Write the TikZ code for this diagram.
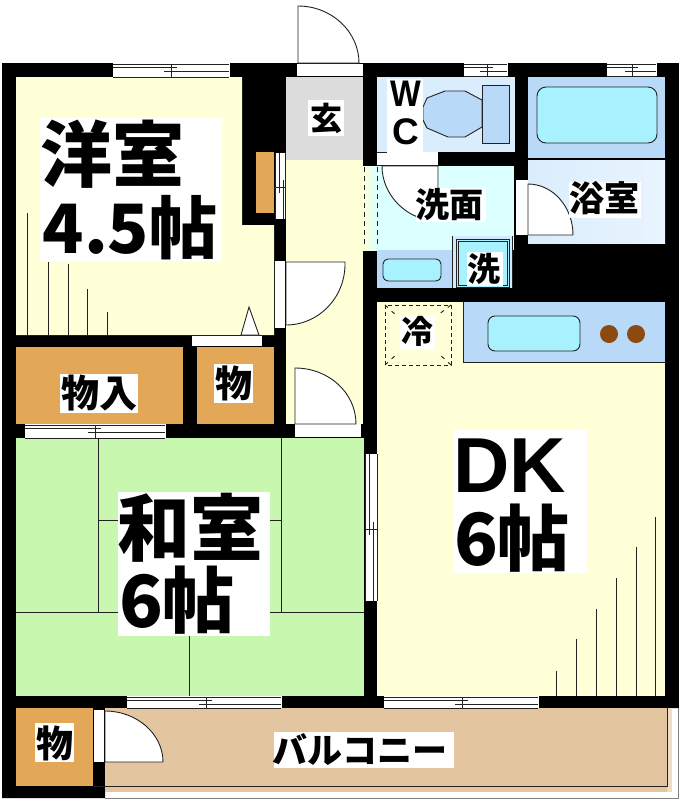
\documentclass[tikz,border=0pt]{standalone}
\usepackage{fontspec}
\setmainfont{Noto Sans CJK JP}[BoldFont={* Black}]
\newfontfamily\latinf{Liberation Sans}
\definecolor{yel}{HTML}{FFFFD8}
\definecolor{grn}{HTML}{C8F8B0}
\definecolor{org}{HTML}{E3A857}
\definecolor{tan}{HTML}{E3C6A0}
\definecolor{blu}{HTML}{B8DAF8}
\definecolor{pale}{HTML}{DAEDFD}
\definecolor{cya}{HTML}{A8F2FF}
\definecolor{wash}{HTML}{DCFFFF}
\definecolor{gry}{HTML}{DCDCDC}
\definecolor{ink}{HTML}{222222}
\definecolor{brn}{HTML}{8A4A10}
\tikzset{
  x=1pt,y=-1pt,
  lbox/.style={fill=white,inner sep=0pt,outer sep=0pt},
  ltext/.style={inner sep=0pt,outer sep=0pt,text=black,font=\bfseries},
  edge/.style={draw=ink,line width=0.9pt},
  thin rail/.style={draw=ink,line width=0.8pt},
  doorleaf/.style={fill=white,draw=ink,line width=0.9pt},
  fixture/.style={draw=ink,line width=0.9pt,fill=cya,rounded corners=7pt},
}
\newcommand\hwin[5]{% x1 x2 y1 y2 tick
  \fill[white] (#1,#3) rectangle (#2,#4);
  \draw[thin rail] (#1,#3+1) -- (#2,#3+1) (#1,#4) -- (#2,#4);
  \draw[thin rail] (#1,#3+4) -- (#5+6,#3+4) (#5-7,#3+8) -- (#2,#3+8);
  \draw[thin rail] (#5,#3+1) -- (#5,#4);
  \draw[white,line width=0.8pt] (#2,#3) -- (#2,#4);
}
\newcommand\vwin[5]{% x1 x2 y1 y2 tick
  \fill[white] (#1,#3) rectangle (#2,#4);
  \draw[thin rail] (#1,#3) -- (#1,#4) (#2,#3) -- (#2,#4);
  \draw[thin rail] (#1+4,#3) -- (#1+4,#5+6) (#1+8,#5-7) -- (#1+8,#4);
  \draw[thin rail] (#1,#5) -- (#2,#5);
}
\begin{document}
\begin{tikzpicture}
\useasboundingbox (0,0) rectangle (679,801);
\fill[white] (0,0) rectangle (679,801);
% walls
\fill[black] (2,63) -- (679,63) -- (679,708) -- (105,708) -- (105,798) -- (2,798) -- cycle;
% balcony
\fill[tan] (105,708) rectangle (672,792);
\fill[tan!60] (667,708) rectangle (672,792);
\draw[edge] (94,786) -- (667,786) -- (667,708);
\draw[draw=gray,line width=1pt] (105,798) -- (678,798) -- (678,708);
% rooms
\fill[yel] (16,77) -- (242,77) -- (242,225) -- (274,225) -- (274,335) -- (16,335) -- cycle;
\fill[gry] (286,77) rectangle (363,160);
\fill[yel] (286,160) rectangle (363,424);
\fill[grn] (16,438) rectangle (364,696);
\fill[yel] (377,302) rectangle (665,696);
\fill[org] (16,347) rectangle (183,424);
\fill[org] (197,347) rectangle (274,424);
\fill[org] (16,708) rectangle (93,786);
\fill[org] (256,152) rectangle (274,213);
% wet rooms
\fill[pale] (377,77) rectangle (515,152);
\fill[white] (377,152) rectangle (438,166);
\fill[blu] (528,77) rectangle (665,158);
\shade[left color=pale,right color=pale!60] (528,160) rectangle (665,243);
\shade[left color=yel,right color=wash,middle color=wash] (363,166) rectangle (390,250);
\fill[wash] (390,166) rectangle (514,250);
\fill[white] (516,180) rectangle (528,235);
\draw[edge,dashed,dash pattern=on 5pt off 4pt] (364,167) -- (364,248) (377,167) -- (377,248);
\draw[edge,dash pattern=on 10pt off 26pt] (377,152.5) -- (438,152.5);
\draw[edge] (377,165.5) -- (438,165.5);
% sink counter and washer
\fill[blu] (377,250) rectangle (452,288);
\draw[fixture,rounded corners=5pt] (383,259) rectangle (441,281);
\fill[blu!60] (452,236) rectangle (513,288);
\draw[draw=ink,line width=0.7pt] (452,236) -- (452,288) (512,236) -- (512,288);
\draw[draw=ink,line width=0.7pt,fill=cya] (456,239) rectangle (509,287);
\draw[draw=ink,line width=0.7pt] (458,241) rectangle (507,285);
% toilet
\draw[edge,fill=blu] (482,100) -- (465,91) -- (445,91) -- (427,98) -- (423,107) -- (423,120) -- (427,128) -- (448,137) -- (465,137) -- (482,127) -- cycle;
\draw[edge,fill=blu] (482,85) rectangle (509,143);
% bath
\draw[fixture,rounded corners=9pt] (537,87) rectangle (657,143);
% kitchen
\fill[blu] (463,302) rectangle (665,362);
\draw[edge] (463,302) -- (463,362) -- (665,362);
\draw[fixture,rounded corners=7pt] (488,316) rectangle (580,351);
\fill[brn] (609,334) circle (9);
\fill[brn] (636,334) circle (9);
% fridge
\draw[edge,dashed,dash pattern=on 4pt off 3pt] (385,305) rectangle (451,365);
\draw[edge,dash pattern=on 4pt off 5pt] (385,305) -- (398,317) (451,305) -- (438,315) (385,365) -- (398,353) (451,365) -- (438,353);
% tatami
\draw[edge] (98,438) -- (98,612) (281,438) -- (281,612) (98,520) -- (281,520) (16,612) -- (364,612) (189,612) -- (189,696);
% wardrobe hatching
\draw[edge] (27,335) -- (27,213) (48,335) -- (48,262) (68,335) -- (68,264) (87,335) -- (87,289) (107,335) -- (107,312);
\draw[edge] (556,696) -- (556,671) (576,696) -- (576,639) (596,696) -- (596,609) (616,696) -- (616,578) (636,696) -- (636,547) (655,696) -- (655,517);
% windows
\hwin{113}{229}{63}{77}{171}
\hwin{464}{507}{63}{76}{487}
\hwin{607}{656}{63}{76}{632}
\hwin{25}{165}{424}{438}{95}
\hwin{127}{281}{696}{708}{206}
\hwin{384}{538}{696}{708}{462}
\vwin{275}{285}{153}{219}{187}
\vwin{365}{377}{454}{601}{529}
% door gaps
\fill[white] (297,64) rectangle (363,76);
\draw[edge] (274.5,261) -- (274.5,328);
\fill[white] (275,261) rectangle (285,328);
\fill[white] (295,424) rectangle (361,437);
\fill[white] (192,336) rectangle (262,346);
\fill[white] (94,710) rectangle (104,762);
% door leaves
\draw[doorleaf] (298,63) -- (298,6) .. controls (332,6) and (359,32) .. (359,63) -- cycle;
\draw[doorleaf] (438,166) -- (382,166) .. controls (382,196) and (408,221) .. (438,221) -- cycle;
\draw[doorleaf] (286,262) -- (345,262) .. controls (346,297) and (319,325) .. (286,325) -- cycle;
\draw[doorleaf] (295,424) -- (295,368) .. controls (329,368) and (356,393) .. (356,424) -- cycle;
\draw[doorleaf] (528,235) -- (528,184) .. controls (553,184) and (573,207) .. (573,235) -- cycle;
\draw[doorleaf] (105,762) -- (105,711) .. controls (137,711) and (163,734) .. (163,762) -- cycle;
\draw[doorleaf] (249,307) -- (241,335) -- (259,335) -- cycle;
% label plates
\node[lbox,minimum width=182pt,minimum height=143pt] (plateyo) at (131,189.5) {};
\node[lbox,minimum width=152pt,minimum height=144pt] (plateja) at (194,564) {};
\node[lbox,minimum width=134pt,minimum height=143pt] (platedk) at (520,501.5) {};
\node[lbox,minimum width=36pt,minimum height=36pt] (plategen) at (326,118) {};
\node[lbox,minimum width=36pt,minimum height=86pt] (platewc) at (405,122) {};
\node[lbox,minimum width=70pt,minimum height=34pt] (platesen) at (451,205) {};
\node[lbox,minimum width=72pt,minimum height=36pt] (plateyoku) at (605,200) {};
\node[lbox,minimum width=36pt,minimum height=34pt] (plateses) at (485,269) {};
\node[lbox,minimum width=35pt,minimum height=35pt] (platerei) at (417.5,332.5) {};
\node[lbox,minimum width=78pt,minimum height=39pt] (plateire) at (99,393.5) {};
\node[lbox,minimum width=39pt,minimum height=39pt] (platemono) at (233.5,383.5) {};
\node[lbox,minimum width=39pt,minimum height=39pt] (platemonob) at (54.5,742.5) {};
\node[lbox,minimum width=180pt,minimum height=36pt] (platebal) at (364,750) {};
% labels
\node[ltext,font=\bfseries\fontsize{72}{72}\selectfont] (tyo) at (112,154) {洋室};
\node[ltext,font=\bfseries\fontsize{68}{68}\selectfont] (tyon) at (130,228) {4.5帖};
\node[ltext,font=\bfseries\fontsize{73}{73}\selectfont] (tja) at (190,528) {和室};
\node[ltext,font=\bfseries\fontsize{72}{72}\selectfont] (tjan) at (177,600) {6帖};
\node[ltext,font=\latinf\bfseries\fontsize{78}{78}\selectfont] (tdk) at (510,466) {DK};
\node[ltext,font=\bfseries\fontsize{72}{72}\selectfont] (tdkn) at (512,538) {6帖};
\node[ltext,font=\bfseries\fontsize{32}{32}\selectfont] (tgen) at (326,118) {玄};
\node[ltext,font=\latinf\bfseries\fontsize{37}{37}\selectfont,xscale=0.88] (tw) at (406,93.5) {W};
\node[ltext,font=\latinf\bfseries\fontsize{37}{37}\selectfont] (tc) at (406,131.5) {C};
\node[ltext,font=\bfseries\fontsize{34}{34}\selectfont] (tsen) at (449.5,205) {洗面};
\node[ltext,font=\bfseries\fontsize{35}{35}\selectfont] (tyoku) at (604,198.5) {浴室};
\node[ltext,font=\bfseries\fontsize{33}{33}\selectfont] (tses) at (484,268.5) {洗};
\node[ltext,font=\bfseries\fontsize{32}{32}\selectfont] (trei) at (417.5,331) {冷};
\node[ltext,font=\bfseries\fontsize{38}{38}\selectfont] (tire) at (99,393) {物入};
\node[ltext,font=\bfseries\fontsize{37}{37}\selectfont] (tmono) at (233.5,383) {物};
\node[ltext,font=\bfseries\fontsize{37}{37}\selectfont] (tmonob) at (54.5,743) {物};
\node[ltext,font=\bfseries\fontsize{35}{35}\selectfont] (tbal) at (360,750) {バルコニー};
\end{tikzpicture}
\end{document}
